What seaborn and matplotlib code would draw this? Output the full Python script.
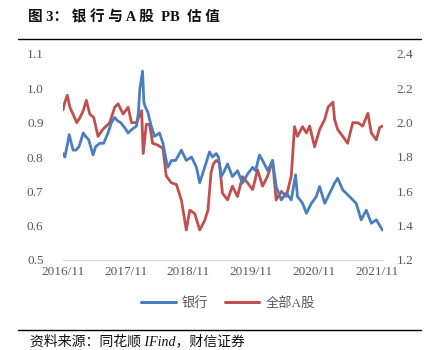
import matplotlib
matplotlib.use("Agg")
import matplotlib.pyplot as plt
from matplotlib.lines import Line2D
import pandas as pd
import seaborn as sns

# Bank sector PB (left axis)
bank_dates = [
    "2016-11-01", "2016-11-12", "2016-11-24", "2016-12-07", "2016-12-17", "2016-12-30",
    "2017-01-15", "2017-02-02", "2017-02-27", "2017-03-13", "2017-03-31", "2017-04-25",
    "2017-05-10", "2017-06-03", "2017-06-26", "2017-07-21", "2017-08-10", "2017-08-29",
    "2017-09-16", "2017-10-03", "2017-10-27", "2017-11-15", "2017-12-06", "2018-01-03",
    "2018-01-14", "2018-01-22", "2018-02-07", "2018-02-15", "2018-02-20", "2018-03-10",
    "2018-03-30", "2018-04-18", "2018-05-17", "2018-06-06", "2018-06-21", "2018-07-04",
    "2018-07-26", "2018-08-19", "2018-09-21", "2018-10-20", "2018-11-19", "2018-12-18",
    "2019-01-06", "2019-02-04", "2019-03-04", "2019-03-21", "2019-04-12", "2019-04-25",
    "2019-05-11", "2019-05-30", "2019-06-17", "2019-07-15", "2019-08-14", "2019-09-12",
    "2019-10-11", "2019-11-10", "2019-11-27", "2019-12-20", "2020-01-07", "2020-02-06",
    "2020-03-05", "2020-03-26", "2020-04-25", "2020-05-24", "2020-06-22", "2020-07-17",
    "2020-07-28", "2020-08-27", "2020-09-18", "2020-10-17", "2020-11-15", "2020-12-04",
    "2021-01-03", "2021-02-01", "2021-03-01", "2021-03-19", "2021-04-18", "2021-05-27",
    "2021-07-05", "2021-08-03", "2021-09-02", "2021-10-01", "2021-10-30", "2021-11-28",
    "2021-12-05",
]
bank_pb = [
    0.81, 0.80, 0.83, 0.865, 0.845, 0.82,
    0.82, 0.83, 0.87, 0.86, 0.85, 0.806,
    0.83, 0.84, 0.84, 0.87, 0.90, 0.915,
    0.905, 0.90, 0.885, 0.87, 0.88, 0.89,
    0.93, 0.996, 1.05, 0.96, 0.95, 0.93,
    0.89, 0.86, 0.87, 0.84, 0.80, 0.77,
    0.79, 0.79, 0.82, 0.79, 0.80, 0.77,
    0.725, 0.77, 0.815, 0.80, 0.81, 0.80,
    0.743, 0.76, 0.78, 0.743, 0.76, 0.724,
    0.75, 0.77, 0.76, 0.806, 0.79, 0.76,
    0.79, 0.714, 0.675, 0.695, 0.675, 0.748,
    0.685, 0.665, 0.636, 0.665, 0.685, 0.714,
    0.665, 0.695, 0.724, 0.738, 0.704, 0.685,
    0.665, 0.617, 0.645, 0.607, 0.617, 0.593,
    0.587,
]

# All A-share PB (right axis)
market_dates = [
    "2016-11-01", "2016-11-12", "2016-11-26", "2016-12-11", "2016-12-29", "2017-01-20",
    "2017-02-08", "2017-02-27", "2017-03-17", "2017-04-06", "2017-04-29", "2017-05-24",
    "2017-06-20", "2017-07-31", "2017-08-29", "2017-09-18", "2017-10-17", "2017-11-15",
    "2017-12-05", "2018-01-03", "2018-02-02", "2018-02-11", "2018-03-01", "2018-03-20",
    "2018-04-07", "2018-05-06", "2018-06-06", "2018-06-25", "2018-07-24", "2018-08-23",
    "2018-09-21", "2018-10-20", "2018-11-09", "2018-12-08", "2019-01-06", "2019-02-04",
    "2019-02-23", "2019-03-13", "2019-03-27", "2019-04-12", "2019-05-01", "2019-05-18",
    "2019-06-17", "2019-07-15", "2019-08-14", "2019-09-12", "2019-10-11", "2019-11-10",
    "2019-12-09", "2020-01-07", "2020-02-06", "2020-03-05", "2020-03-26", "2020-04-25",
    "2020-05-24", "2020-06-22", "2020-07-11", "2020-07-28", "2020-08-27", "2020-09-18",
    "2020-10-07", "2020-10-26", "2020-11-05", "2020-12-04", "2021-01-03", "2021-01-22",
    "2021-02-20", "2021-03-01", "2021-03-19", "2021-04-18", "2021-05-16", "2021-06-15",
    "2021-07-14", "2021-08-12", "2021-09-11", "2021-10-01", "2021-10-30", "2021-11-18",
    "2021-12-03",
]
market_pb = [
    2.075, 2.12, 2.16, 2.09, 2.05, 2.00,
    2.03, 2.07, 2.13, 2.05, 2.03, 1.92,
    1.96, 2.00, 2.09, 2.11, 2.05, 2.09,
    2.00, 2.00, 2.07, 1.82, 1.99, 1.99,
    1.88, 1.87, 1.85, 1.69, 1.65, 1.64,
    1.55, 1.375, 1.49, 1.47, 1.375, 1.43,
    1.49, 1.71, 1.76, 1.78, 1.765, 1.59,
    1.55, 1.63, 1.57, 1.686, 1.65, 1.61,
    1.725, 1.63, 1.69, 1.78, 1.55, 1.60,
    1.57, 1.69, 1.977, 1.92, 1.977, 1.94,
    1.98, 1.90, 1.86, 1.96, 2.02, 2.09,
    2.12, 2.02, 1.96, 1.92, 1.88, 2.00,
    2.00, 1.98, 2.055, 1.94, 1.90, 1.97,
    1.98,
]

tick_dates = ["2016-11-01", "2017-11-01", "2018-11-01", "2019-11-01", "2020-11-01", "2021-11-01"]
tick_labels = ["2016/11", "2017/11", "2018/11", "2019/11", "2020/11", "2021/11"]
left_ticks = [0.5, 0.6, 0.7, 0.8, 0.9, 1.0, 1.1]
right_ticks = [1.2, 1.4, 1.6, 1.8, 2.0, 2.2, 2.4]
series_names = ["银行", "全部A股"]

BLUE = "#4A7EBF"
RED = "#C0504D"
GRAY = "#595959"
MIXED = ["Liberation Serif", "Noto Sans CJK SC"]

sns.set_style("white")
plt.rcParams["font.family"] = MIXED + ["DejaVu Sans"]

bank_df = pd.DataFrame({"date": pd.to_datetime(bank_dates), "pb": bank_pb})
market_df = pd.DataFrame({"date": pd.to_datetime(market_dates), "pb": market_pb})

fig = plt.figure(figsize=(4.31, 3.5), dpi=100)
ax = fig.add_axes([63 / 431, 1 - 260 / 350, (383 - 63) / 431, (260 - 54) / 350])
ax2 = ax.twinx()

sns.lineplot(data=bank_df, x="date", y="pb", ax=ax, color=BLUE, linewidth=2.0, legend=False)
sns.lineplot(data=market_df, x="date", y="pb", ax=ax2, color=RED, linewidth=2.0, legend=False)
ax.set_zorder(ax2.get_zorder() + 1)
ax.patch.set_visible(False)

ax.set_xlim(pd.Timestamp("2016-11-01"), pd.Timestamp("2021-12-08"))
ax.set_ylim(0.5, 1.1)
ax2.set_ylim(1.2, 2.4)
ax.set_yticks(left_ticks)
ax.set_yticklabels([f"{v:.1f}" for v in left_ticks])
ax2.set_yticks(right_ticks)
ax2.set_yticklabels([f"{v:.1f}" for v in right_ticks])
ax.set_xticks(pd.to_datetime(tick_dates))
ax.set_xticklabels(tick_labels)
for a in (ax, ax2):
    a.set_xlabel("")
    a.set_ylabel("")
    for side in ("top", "left", "right"):
        a.spines[side].set_visible(False)
    a.spines["bottom"].set_color("#D9D9D9")
    a.spines["bottom"].set_linewidth(0.8)
    a.grid(False)

ax.tick_params(axis="x", direction="in", length=3, color="#D9D9D9", labelsize=9.5,
               labelcolor=GRAY, pad=4)
ax.tick_params(axis="y", length=0, labelsize=9.5, labelcolor=GRAY, pad=14)
ax2.tick_params(axis="y", length=0, labelsize=9.5, labelcolor=GRAY, pad=10)
ax2.tick_params(axis="x", length=0)

# Legend beneath the axes
handles = [Line2D([], [], color=BLUE, linewidth=2.2), Line2D([], [], color=RED, linewidth=2.2)]
fig.legend(handles, series_names, loc="center", bbox_to_anchor=(228 / 431, 1 - 303 / 350),
           ncol=2, frameon=False, handlelength=2.6, columnspacing=1.3, handletextpad=0.45,
           prop={"family": MIXED, "size": 9.5}, labelcolor=GRAY)

# Title, rules and source note
fig.text(28 / 431, 1 - 17 / 350, "图 3： 银 行 与 A 股  PB  估 值", fontsize=10.5,
         fontweight="bold", color="#111111", va="center", ha="left", family=MIXED)
fig.add_artist(Line2D([18 / 431, 421 / 431], [1 - 39 / 350, 1 - 39 / 350],
                      color="black", linewidth=1.0, transform=fig.transFigure))
fig.add_artist(Line2D([18 / 431, 421 / 431], [1 - 330 / 350, 1 - 330 / 350],
                      color="black", linewidth=1.0, transform=fig.transFigure))
fig.text(30 / 431, 1 - 341 / 350, "资料来源：同花顺 IFind，财信证券", fontsize=10,
         color="#111111", va="center", ha="left", style="italic", family=MIXED)

fig.savefig("out.png", dpi=100)
